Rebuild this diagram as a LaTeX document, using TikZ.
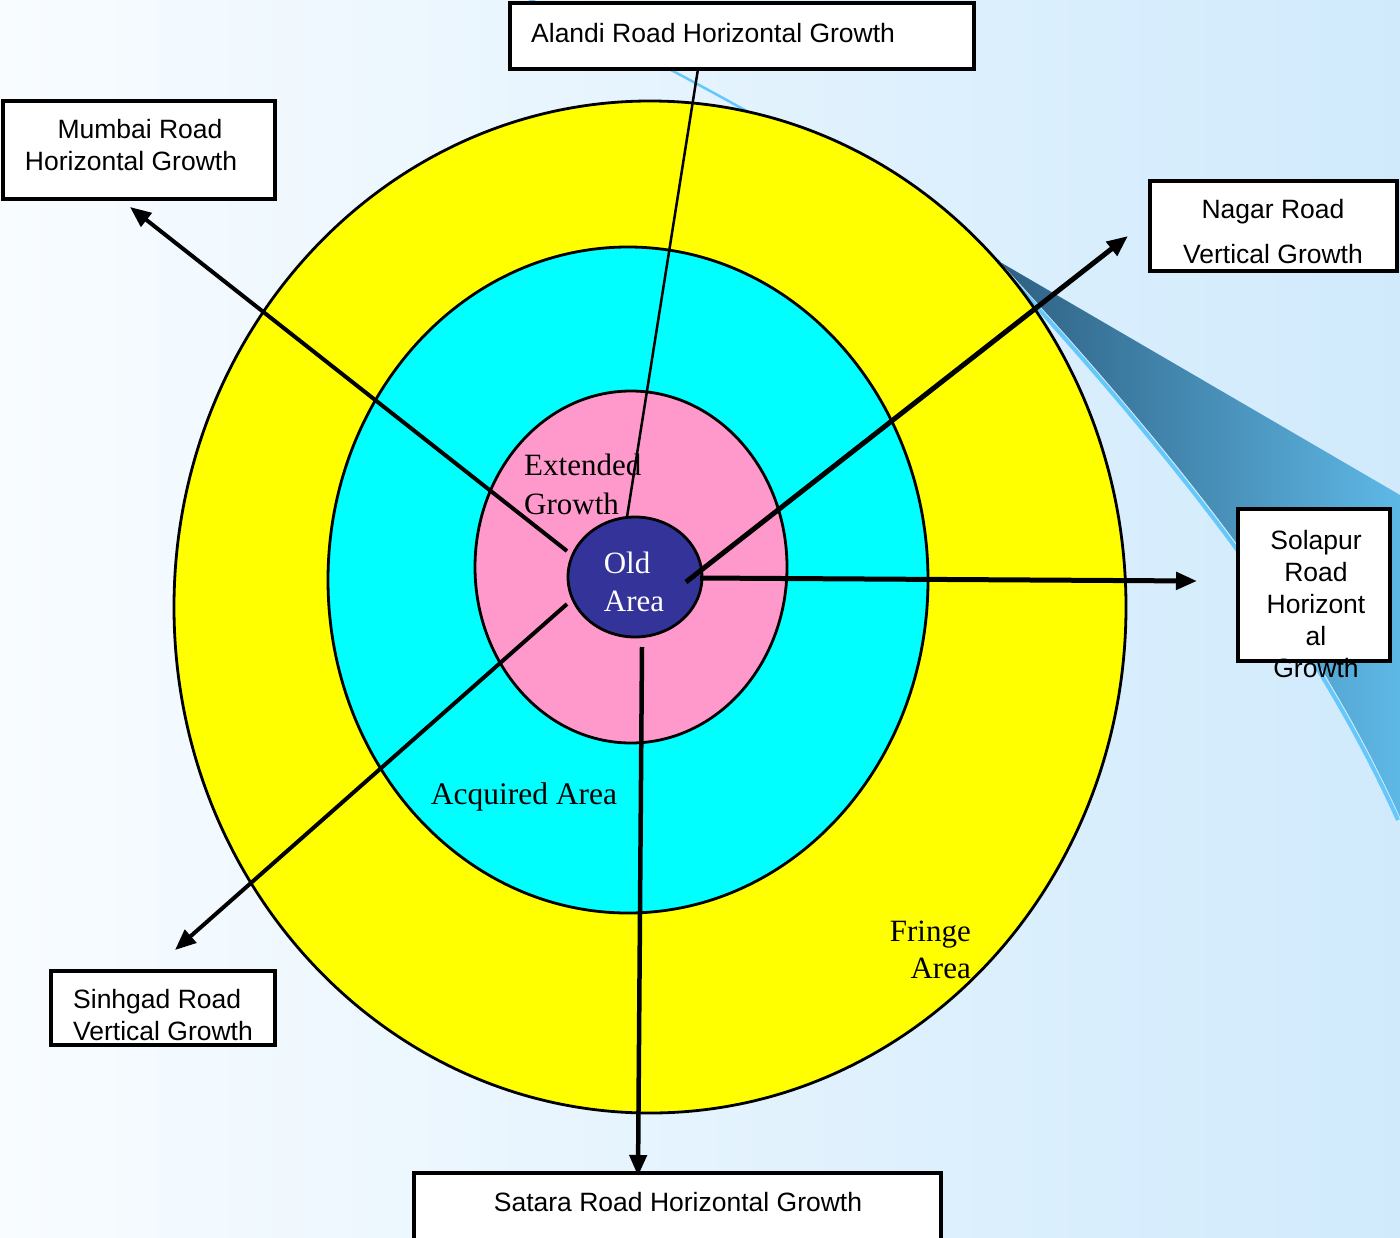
\documentclass[tikz,border=0pt]{standalone}
\usepackage{fontspec}
\setmainfont{Liberation Serif}
\setsansfont{Liberation Sans}
\usetikzlibrary{arrows.meta}
\definecolor{bgL}{RGB}{248,252,255}
\definecolor{bgR}{RGB}{208,234,252}
\definecolor{swD}{RGB}{46,96,130}
\definecolor{swL}{RGB}{94,184,230}
\definecolor{swLine}{RGB}{100,200,250}
\definecolor{fringe}{RGB}{255,255,0}
\definecolor{acq}{RGB}{0,255,255}
\definecolor{ext}{RGB}{255,153,204}
\definecolor{old}{RGB}{51,51,153}
\begin{document}
\begin{tikzpicture}[x=1pt,y=-1pt,
  box/.style={draw=black, line width=3.2pt, fill=white, inner sep=0pt},
  sans/.style={font=\sffamily\fontsize{26.5}{32}\selectfont, inner sep=0pt},
  serif/.style={font=\rmfamily\fontsize{31}{38}\selectfont, inner sep=0pt},
  ring/.style={draw=black, line width=2.8pt},
  arr/.style={-{Triangle[length=21pt,width=17pt]}, line width=4.5pt},
  thinline/.style={line width=2.5pt}
]
\useasboundingbox (0,0) rectangle (1400,1237);
\shade[left color=bgL, right color=bgR] (0,0) rectangle (1400,1237);

% decorative swoosh
\draw[swLine, line width=2.5pt] (520,-5) .. controls (620,40) and (800,135) .. (1000,262);
\draw[swLine, line width=4pt] (1398,820) .. controls (1318,643) and (1198,483) .. (998,264);
\shade[left color=swD, right color=swL] (1000,262) -- (1400,495) -- (1400,817)
  .. controls (1320,640) and (1200,480) .. (1000,262) -- cycle;

% rings
\draw[ring, fill=fringe] (650,607) ellipse [x radius=476, y radius=506];
\draw[ring, fill=acq] (628,580) ellipse [x radius=300, y radius=333];
\draw[ring, fill=ext] (631,567) ellipse [x radius=156, y radius=176];
\draw[ring, fill=old] (635,577) ellipse [x radius=67, y radius=60];

% boxes
\node[box, minimum width=464pt, minimum height=66pt] (alandi) at (742,36) {};
\node[box, minimum width=272pt, minimum height=98pt] (mumbai) at (139,150) {};
\node[box, minimum width=247pt, minimum height=90pt] (nagar) at (1273.5,226) {};
\node[box, minimum width=152pt, minimum height=152pt] (solapur) at (1314,585) {};
\node[box, minimum width=224pt, minimum height=74pt] (sinhgad) at (163,1008) {};
\node[box, minimum width=527pt, minimum height=70pt] (satara) at (677.5,1208) {};

% connector end points
\coordinate (cA) at (627,517);
\coordinate (tA) at (698,69);
\coordinate (cM) at (567,551);
\coordinate (tM) at (130,207);
\coordinate (cN) at (686,582);
\coordinate (tN) at (1128,236);
\coordinate (cSo) at (700,578);
\coordinate (tSo) at (1197,581);
\coordinate (cSi) at (567,604);
\coordinate (tSi) at (175,950);
\coordinate (cSa) at (642,647);
\coordinate (tSa) at (638,1176);

% connectors
\draw[thinline] (tA) -- (cA);
\draw[arr, line width=4pt] (cM) -- (tM);
\draw[arr, line width=5pt] (cN) -- (tN);
\draw[arr, line width=5pt] (cSo) -- (tSo);
\draw[arr, line width=4pt] (cSi) -- (tSi);
\draw[arr, line width=4.5pt] (cSa) -- (tSa);

% box texts
\node[sans, anchor=west] (alandiT) at (531,33) {Alandi Road Horizontal Growth};
\node[sans, align=center] (mumbaiT) at (131,145) {\hspace*{18pt}Mumbai Road\\Horizontal Growth};
\node[sans, align=center] (nagarT) at (1273,232) {Nagar Road\\[13pt]Vertical Growth};
\node[sans, align=center] (solapurT) at (1316,604) {Solapur\\Road\\Horizont\\al\\Growth};
\node[sans, align=left, anchor=west] (sinhgadT) at (73,1015) {Sinhgad Road\\Vertical Growth};
\node[sans] (sataraT) at (678,1202) {Satara Road Horizontal Growth};

% ring labels
\node[serif, align=left, anchor=west, font=\rmfamily\fontsize{31}{39}\selectfont] (extT) at (524,484) {Extended\\Growth};
\node[serif, align=center, text=white] (oldT) at (627,582) {Old\\\hspace*{14pt}Area};
\node[serif, font=\rmfamily\fontsize{31.5}{38}\selectfont] (acqT) at (524,797) {Acquired Area};
\node[serif, align=right, anchor=east, font=\rmfamily\fontsize{31}{37}\selectfont] (fringeT) at (971,950) {Fringe\\Area};
\end{tikzpicture}
\end{document}
